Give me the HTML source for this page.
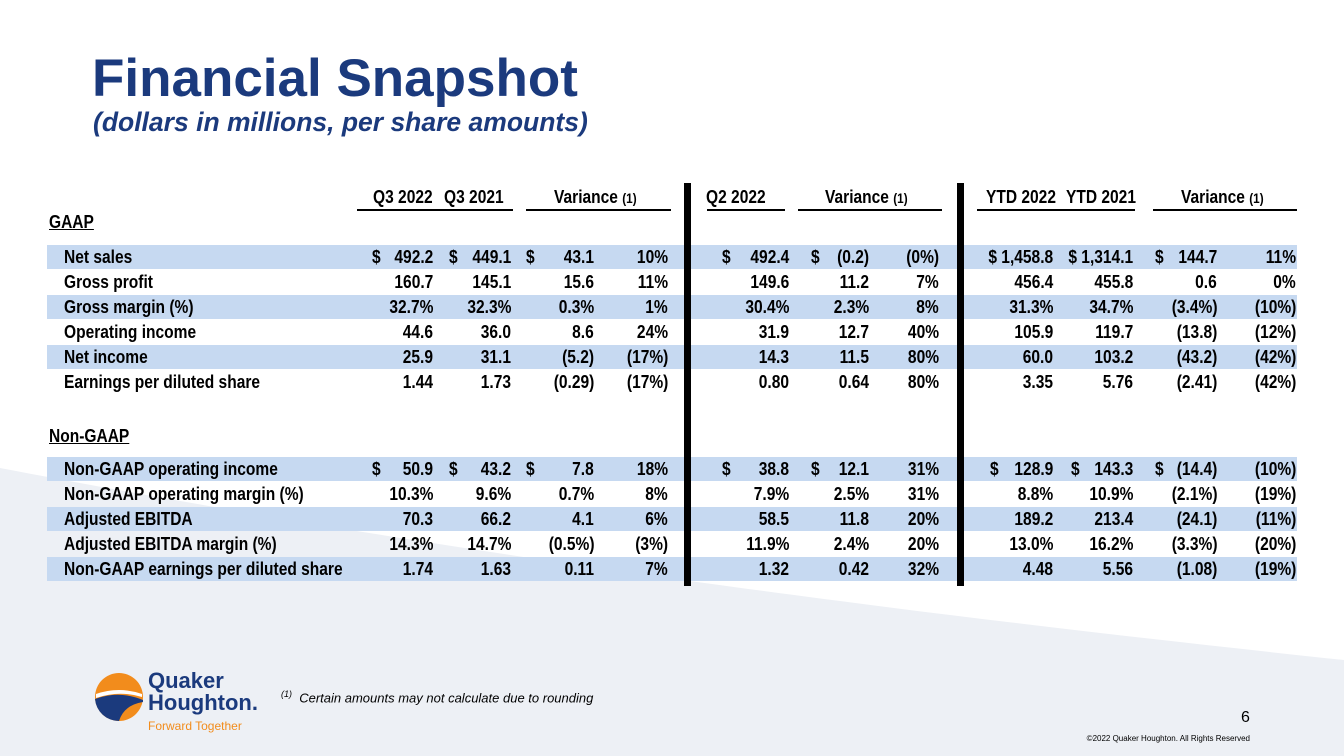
<!DOCTYPE html>
<html><head><meta charset="utf-8">
<style>
body{margin:0;width:1344px;height:756px;position:relative;overflow:hidden;background:#fff;font-family:"Liberation Sans",sans-serif}
.n{position:absolute;font-family:"Liberation Sans",sans-serif;font-weight:bold;font-size:18.5px;color:#000;white-space:nowrap;line-height:20px;transform:scaleX(0.84);transform-origin:left center}
.r{text-align:right;transform-origin:right center}
.band{position:absolute;left:47px;width:1250px;height:24px;background:#c6d9f1}
.ul{position:absolute;height:1.5px;background:#000;top:209px}
.vbar{position:absolute;width:7px;background:#000;top:183px;height:403px}
</style></head><body>
<svg style="position:absolute;left:0;top:0" width="1344" height="756">
<path d="M0 468 C300 525 700 592 1344 660 L1344 756 L0 756 Z" fill="#edf0f5"/>
</svg>
<div style="position:absolute;left:92px;top:48px;font-size:53px;font-weight:bold;color:#1b3a7d">Financial Snapshot</div>
<div style="position:absolute;left:93px;top:107px;font-size:26.5px;font-weight:bold;font-style:italic;color:#1b3a7d">(dollars in millions, per share amounts)</div>
<div id="tbl"></div>
<div style="position:absolute;left:94px;top:670px;width:200px;height:70px">
<svg width="50" height="50" style="position:absolute;left:0;top:2px"><circle cx="25" cy="25" r="24" fill="#f28c1c"/><path d="M1 27 Q25 18 49 28 L49 30 Q30 33 25 49 A24 24 0 0 1 1 27Z" fill="#1b3a7d"/><path d="M2 22 Q25 14 48 22 L48 25 Q25 18 2 26Z" fill="#fff"/></svg>
<div style="position:absolute;left:54px;top:0;font-size:22px;font-weight:bold;color:#1b3a7d;line-height:22px">Quaker<br>Houghton.</div>
<div style="position:absolute;left:54px;top:49px;font-size:12px;color:#f28c1c">Forward Together</div>
</div>
<div style="position:absolute;left:281px;top:689px;font-size:13px;font-style:italic;color:#000"><sup style="font-size:9px">(1)</sup>&nbsp; Certain amounts may not calculate due to rounding</div>
<div style="position:absolute;left:1241px;top:709px;font-size:16px;color:#000">6</div>
<div style="position:absolute;right:94px;top:734px;font-size:8px;color:#000">©2022 Quaker Houghton. All Rights Reserved</div>
<script>
const labels=["Net sales","Gross profit","Gross margin (%)","Operating income","Net income","Earnings per diluted share","Non-GAAP operating income","Non-GAAP operating margin (%)","Adjusted EBITDA","Adjusted EBITDA margin (%)","Non-GAAP earnings per diluted share"];
const q3_2022=["492.2","160.7","32.7%","44.6","25.9","1.44","50.9","10.3%","70.3","14.3%","1.74"];
const q3_2021=["449.1","145.1","32.3%","36.0","31.1","1.73","43.2","9.6%","66.2","14.7%","1.63"];
const q3var=["43.1","15.6","0.3%","8.6","(5.2)","(0.29)","7.8","0.7%","4.1","(0.5%)","0.11"];
const q3pct=["10%","11%","1%","24%","(17%)","(17%)","18%","8%","6%","(3%)","7%"];
const q2_2022=["492.4","149.6","30.4%","31.9","14.3","0.80","38.8","7.9%","58.5","11.9%","1.32"];
const q2var=["(0.2)","11.2","2.3%","12.7","11.5","0.64","12.1","2.5%","11.8","2.4%","0.42"];
const q2pct=["(0%)","7%","8%","40%","80%","80%","31%","31%","20%","20%","32%"];
const ytd2022=["1,458.8","456.4","31.3%","105.9","60.0","3.35","128.9","8.8%","189.2","13.0%","4.48"];
const ytd2021=["1,314.1","455.8","34.7%","119.7","103.2","5.76","143.3","10.9%","213.4","16.2%","5.56"];
const ytdvar=["144.7","0.6","(3.4%)","(13.8)","(43.2)","(2.41)","(14.4)","(2.1%)","(24.1)","(3.3%)","(1.08)"];
const ytdpct=["11%","0%","(10%)","(12%)","(42%)","(42%)","(10%)","(19%)","(11%)","(20%)","(19%)"];
const dollarRows=[0,6];
const T=document.getElementById('tbl');
function add(cls,txt,x,y,right){const d=document.createElement('div');d.className=cls;d.textContent=txt;d.style.top=y+'px';if(right){d.style.right=(1344-x)+'px';}else d.style.left=x+'px';T.appendChild(d);return d;}
const rowY=i=>i<6?247+i*25:459+(i-6)*25;
[0,2,4,6,8,10].forEach(i=>{const b=document.createElement('div');b.className='band';b.style.top=(rowY(i)-2)+'px';


T.appendChild(b);});
const cols=[[q3_2022,433,372],[q3_2021,511,449],[q3var,594,526],[q3pct,668,0],[q2_2022,789,722],[q2var,869,811],[q2pct,939,0],[ytd2022,1053,0],[ytd2021,1133,0],[ytdvar,1217,1155],[ytdpct,1296,0]];
labels.forEach((l,i)=>{const y=rowY(i);const d=add('n',l,64,y,false);


const dr=dollarRows.includes(i);
cols.forEach(([arr,rx,dx],c)=>{let t=arr[i];if(dr&&(c===7||c===8)&&i===0)t='$ '+t;
const v=add('n r',t,rx,y,true);


if(dr&&dx){const s=add('n','$',dx,y,false);

}
if(dr&&i===6&&(c===7||c===8)){const s=add('n','$',c===7?990:1071,y,false);

}
});});
const heads=[["Q3 2022",373],["Q3 2021",444],["Q2 2022",706],["YTD 2022",986],["YTD 2021",1066]];
heads.forEach(([t,x])=>{const h=add('n',t,x,187,false);

});
[[554],[825],[1181]].forEach(([x])=>{const h=document.createElement('div');h.className='n';h.style.left=x+'px';h.style.top='187px';h.innerHTML='Variance <span style="font-size:14px">(1)</span>';


T.appendChild(h);});
[[357,513],[526,671],[707,785],[798,942],[977,1135],[1153,1297]].forEach(([a,b])=>{const u=document.createElement('div');u.className='ul';u.style.left=a+'px';u.style.width=(b-a)+'px';


T.appendChild(u);});
[["GAAP",49,212],["Non-GAAP",49,426]].forEach(([t,x,y])=>{const s=add('n',t,x,y,false);s.style.textDecoration='underline';

});
[684,957].forEach(x=>{const v=document.createElement('div');v.className='vbar';v.style.left=x+'px';


T.appendChild(v);});
</script>
</body></html>
